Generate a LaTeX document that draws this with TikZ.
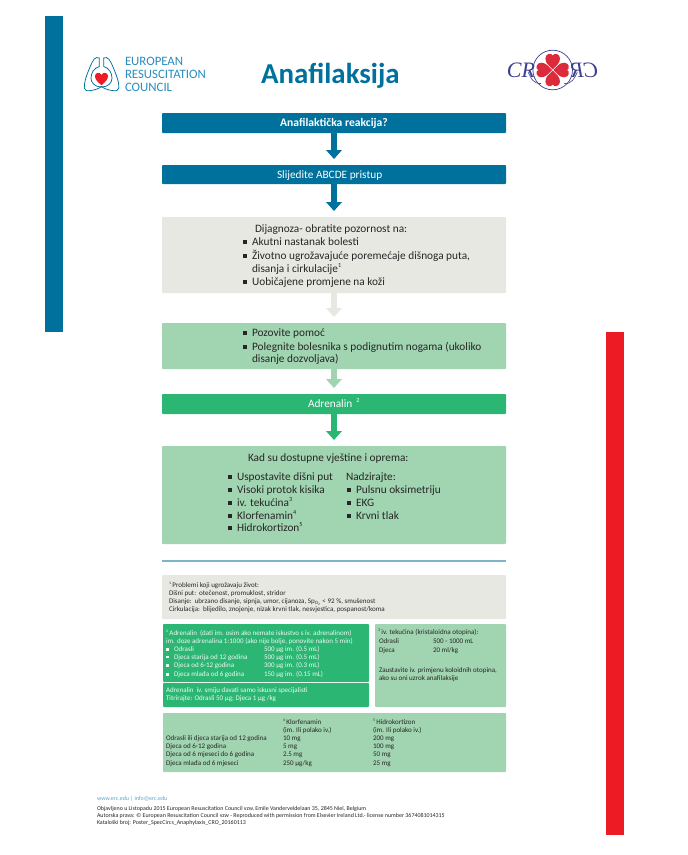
\documentclass[tikz,border=0pt]{standalone}
\usepackage{fontspec}
\setmainfont{Carlito}
\newfontfamily\logoserif{Liberation Serif}
\usetikzlibrary{arrows.meta}
\definecolor{ercblue}{HTML}{00719C}
\definecolor{ercgreen}{HTML}{2BB673}
\definecolor{lightgreen}{HTML}{A1D4B1}
\definecolor{palegray}{HTML}{E8E8E3}
\definecolor{rulecol}{HTML}{7FB2CB}
\definecolor{barred}{HTML}{ED1C24}
\definecolor{logotext}{HTML}{2A8DBE}
\definecolor{navy}{HTML}{3C3F8F}
\definecolor{petal}{HTML}{DC2B3A}
\definecolor{ink}{HTML}{262626}
\definecolor{weblink}{HTML}{5AA5CF}
\newcommand{\bul}{\rule[0.12em]{0.36em}{0.36em}}
\newcommand{\sps}[1]{\raisebox{0.42em}{\scalebox{0.55}{#1}}}
\newcommand{\boxat}[6]{\node[flowbox,fill=#1,minimum width={(#4-#3)*1pt},minimum height={(#6-#5)*1pt}] (#2) at ({(#3+#4)/2},{(#5+#6)/2}) {};}
\tikzset{
 flowbox/.style={inner sep=0pt,outer sep=0pt,rounded corners=0.8pt},
 main/.style={anchor=base west,inner sep=0pt,outer sep=0pt,text=ink,font=\fontsize{11.3}{13}\selectfont},
 small/.style={anchor=base west,inner sep=0pt,outer sep=0pt,text=ink,font=\fontsize{7.03}{9}\selectfont},
 smallw/.style={small,text=white!92!ercgreen},
 foot/.style={anchor=base west,inner sep=0pt,outer sep=0pt,text=ink,font=\fontsize{5.95}{8}\selectfont},
 flowarrow/.style={line width=6.5pt,-{Triangle[width=15.5pt,length=9pt]},shorten >=6pt},
 logotxt/.style={anchor=base west,inner sep=0pt,outer sep=0pt,text=logotext,font=\fontsize{12.8}{14}\selectfont},
 lungline/.style={draw=ercblue,line width=0.75pt,line join=round,line cap=round},
 crotxt/.style={anchor=center,inner sep=0pt,text=navy,font=\logoserif\itshape\fontsize{22}{24}\selectfont},
}
\begin{document}
\begin{tikzpicture}[x=1pt,y=-1pt]
\useasboundingbox (0,0) rectangle (688,855);
\fill[white] (0,0) rectangle (688,855);
% side bars
\fill[ercblue] (45,16) rectangle (63,332);
\fill[barred] (606,332) rectangle (624,835);
% ERC logo
\draw[lungline] (99.3,58) .. controls (95,56) and (93,60) .. (90,67) .. controls (87,74) and (84,82) .. (84.3,88) .. controls (84.5,91) and (87,91) .. (91,90.5) .. controls (95,90) and (99,88.5) .. (101.5,86.5) .. controls (104,88.5) and (108,90) .. (112,90.5) .. controls (116,91) and (118.7,91) .. (118.9,88) .. controls (119.2,82) and (116,74) .. (113,67) .. controls (110,60) and (108,56) .. (103.7,58);
\draw[lungline] (99.3,58) -- (99.3,66.5) .. controls (94,68) and (91,73) .. (91,78) .. controls (91,83) and (95,87) .. (101.5,87) .. controls (108,87) and (112,83) .. (112,78) .. controls (112,73) and (109,68) .. (103.7,66.5) -- (103.7,58);
\fill[barred] (101.5,85.2) .. controls (97,81.5) and (95,79) .. (95,76) .. controls (95,72.5) and (100,71.5) .. (101.5,75) .. controls (103,71.5) and (108,72.5) .. (108,76) .. controls (108,79) and (106,81.5) .. (101.5,85.2) -- cycle;
\node[logotxt] (logoa) at (125,65) {EUROPEAN};
\node[logotxt] (logob) at (125,78) {RESUSCITATION};
\node[logotxt] (logoc) at (125,91) {COUNCIL};
% title
\node[anchor=base west,inner sep=0pt,text=ercblue,font=\fontsize{28.9}{30}\selectfont\bfseries] (title) at (261,83) {Anafilaksija};
% CRO logo
\draw[navy,line width=0.7pt] (552.7,70) circle (19.8);
\foreach \r in {0,90,180,270}{
 \fill[petal,rotate around={\r:(552.7,70)}] (552.7,70) .. controls (549.4,67) and (545.4,63) .. (545.4,58.5) .. controls (545.4,53.5) and (551.4,52.5) .. (552.7,55.5) .. controls (554,52.5) and (560,53.5) .. (560,58.5) .. controls (560,63) and (556,67) .. (552.7,70) -- cycle;
}
\draw[white,line width=0.5pt] (545,62.3) -- (560.4,77.7);
\draw[white,line width=0.5pt] (545,77.7) -- (560.4,62.3);
\node[crotxt] (crol) at (521,70) {CR};
\node[crotxt,xscale=-1] (cror) at (584.4,70) {CR};
\draw[navy,line width=0.6pt] (528,72) .. controls (531,78) and (533,84) .. (541,83.5);
\draw[navy,line width=0.6pt] (577.4,72) .. controls (574.4,78) and (572.4,84) .. (564.4,83.5);
% boxes
\boxat{ercblue}{b1}{162}{506}{113}{133}
\boxat{ercblue}{b2}{162}{506}{165}{184}
\boxat{palegray}{b3}{162}{506}{217}{293}
\boxat{lightgreen}{b4}{162}{506}{323}{369}
\boxat{ercgreen}{b5}{162}{506}{394}{414}
\boxat{lightgreen}{b6}{162}{506}{446}{544}
\boxat{palegray}{n1}{162}{506}{575}{619}
\boxat{ercgreen}{n2}{163}{369}{624}{682}
\boxat{ercgreen}{n3}{163}{369}{683}{707}
\boxat{lightgreen}{n4}{375}{506}{624}{707}
\boxat{lightgreen}{n5}{163}{506}{713}{772}
% connectors
\draw[flowarrow,ercblue] (b1.south) -- (b2.north);
\draw[flowarrow,ercblue] (b2.south) -- (b3.north);
\draw[flowarrow,palegray] (b3.south) -- (b4.north);
\draw[flowarrow,lightgreen] (b4.south) -- (b5.north);
\draw[flowarrow,ercgreen] (b5.south) -- (b6.north);
% rule
\draw[rulecol,line width=1.3pt] (162,561) -- (506,561);
% box labels
\node[anchor=base west,inner sep=0pt,text=white,font=\fontsize{11.6}{13}\selectfont\bfseries] (t1) at (280,126.8) {Anafilaktička reakcija?};
\node[main,text=white] (t2) at (277,178.3) {Slijedite ABCDE pristup};
\node[main] (d0) at (255,232.7) {Dijagnoza- obratite pozornost na:};
\node[main] (d1) at (243,245.7) {\bul\hspace{5pt}Akutni nastanak bolesti};
\node[main] (d2) at (243,259) {\bul\hspace{5pt}Životno ugrožavajuće poremećaje dišnoga puta,};
\node[main] (d3) at (252,272) {disanja i cirkulacije\sps{1}};
\node[main] (d4) at (243,285) {\bul\hspace{5pt}Uobičajene promjene na koži};
\node[main] (p1) at (243,336.7) {\bul\hspace{5pt}Pozovite pomoć};
\node[main] (p2) at (243,350) {\bul\hspace{5pt}Polegnite bolesnika s podignutim nogama (ukoliko};
\node[main] (p3) at (252,362.7) {disanje dozvoljava)};
\node[main,text=white] (t5) at (308,407.5) {Adrenalin\hspace{4pt}\sps{2}};
\node[main] (k0) at (248,461.7) {Kad su dostupne vještine i oprema:};
\node[main] (k1) at (228,480) {\bul\hspace{5pt}Uspostavite dišni put};
\node[main] (k2) at (228,493) {\bul\hspace{5pt}Visoki protok kisika};
\node[main] (k3) at (228,506) {\bul\hspace{5pt}iv. tekućina\sps{3}};
\node[main] (k4) at (228,519) {\bul\hspace{5pt}Klorfenamin\sps{4}};
\node[main] (k5) at (228,531.7) {\bul\hspace{5pt}Hidrokortizon\sps{5}};
\node[main] (m0) at (346,480) {Nadzirajte:};
\node[main] (m1) at (347,493) {\bul\hspace{5pt}Pulsnu oksimetriju};
\node[main] (m2) at (347,506) {\bul\hspace{5pt}EKG};
\node[main] (m3) at (347,519) {\bul\hspace{5pt}Krvni tlak};
% note 1
\node[small] (a0) at (169,587.3) {\sps{1}\hspace{1.5pt}Problemi koji ugrožavaju život:};
\node[small] (a1) at (169,595.3) {Dišni put:\hspace{3pt}otečenost, promuklost, stridor};
\node[small] (a2) at (169,603.7) {Disanje:\hspace{3pt}ubrzano disanje, sipnja, umor, cijanoza, Sp\textsubscript{O\textsubscript{2}} < 92 \%, smušenost};
\node[small] (a3) at (169,611.7) {Cirkulacija:\hspace{3pt}blijedilo, znojenje, nizak krvni tlak, nesvjestica, pospanost/koma};
% note 2
\node[smallw] (e0) at (166,635) {\sps{2}\hspace{1.5pt}Adrenalin\hspace{3pt}(dati im. osim ako nemate iskustvo s iv. adrenalinom)};
\node[smallw] (e1) at (166,643.3) {im. doze adrenalina 1:1000 (ako nije bolje, ponovite nakon 5 min)};
\node[smallw] (e2) at (166,651.7) {\bul};
\node[smallw] (e2a) at (174,651.7) {Odrasli};
\node[smallw] (e2b) at (264,651.7) {500 µg im. (0.5 mL)};
\node[smallw] (e3) at (166,659.3) {\bul};
\node[smallw] (e3a) at (174,659.3) {Djeca starija od 12 godina};
\node[smallw] (e3b) at (264,659.3) {500 µg im. (0.5 mL)};
\node[smallw] (e4) at (166,667.7) {\bul};
\node[smallw] (e4a) at (174,667.7) {Djeca od 6-12 godina};
\node[smallw] (e4b) at (264,667.7) {300 µg im. (0.3 mL)};
\node[smallw] (e5) at (166,676.7) {\bul};
\node[smallw] (e5a) at (174,676.7) {Djeca mlađa od 6 godina};
\node[smallw] (e5b) at (264,676.7) {150 µg im. (0.15 mL)};
\node[smallw] (f0) at (166,692.7) {Adrenalin\hspace{3pt}iv. smiju davati samo iskusni specijalisti};
\node[smallw] (f1) at (166,700.7) {Titrirajte: Odrasli 50 µg; Djeca 1 µg /kg};
% note 3
\node[small] (g0) at (378,634.3) {\sps{3}\hspace{1.5pt}iv. tekućina (kristaloidna otopina):};
\node[small] (g1) at (379,643.7) {Odrasli};
\node[small] (g1b) at (433,643.7) {500 - 1000 mL};
\node[small] (g2) at (379,652.7) {Djeca};
\node[small] (g2b) at (433,652.7) {20 ml/kg};
\node[small] (g3) at (379,672) {Zaustavite iv. primjenu koloidnih otopina,};
\node[small] (g4) at (379,680.7) {ako su oni uzrok anafilaksije};
% note 4/5
\node[small] (h0) at (283,724) {\sps{4}\hspace{1.5pt}Klorfenamin};
\node[small] (h1) at (283,732.7) {(im. Ili polako iv.)};
\node[small] (i0) at (373,724) {\sps{5}\hspace{1.5pt}Hidrokortizon};
\node[small] (i1) at (373,732.7) {(im. Ili polako iv.)};
\node[small] (j1) at (166,740.7) {Odrasli ili djeca starija od 12 godina};
\node[small] (h2) at (283,740.7) {10 mg};
\node[small] (i2) at (373,740.7) {200 mg};
\node[small] (j2) at (166,748.7) {Djeca od 6-12 godina};
\node[small] (h3) at (283,748.7) {5 mg};
\node[small] (i3) at (373,748.7) {100 mg};
\node[small] (j3) at (166,756.7) {Djeca od 6 mjeseci do 6 godina};
\node[small] (h4) at (283,756.7) {2.5 mg};
\node[small] (i4) at (373,756.7) {50 mg};
\node[small] (j4) at (166,765.7) {Djeca mlađa od 6 mjeseci};
\node[small] (h5) at (283,765.7) {250 µg/kg};
\node[small] (i5) at (373,765.7) {25 mg};
% footer
\node[foot,text=weblink] (w0) at (97,800.7) {www.erc.edu | info@erc.edu};
\node[foot] (w1) at (97,810) {Objavljeno u Listopadu 2015 European Resuscitation Council vzw, Emile Vanderveldelaan 35, 2845 Niel, Belgium};
\node[foot] (w2) at (97,817) {Autorska prava: © European Resuscitation Council vzw - Reproduced with permission from Elsevier Ireland Ltd.- license number 3674081014315};
\node[foot] (w3) at (97,824) {Kataloški broj: Poster\_SpecCircs\_Anaphylaxis\_CRO\_20160113};
\end{tikzpicture}
\end{document}
